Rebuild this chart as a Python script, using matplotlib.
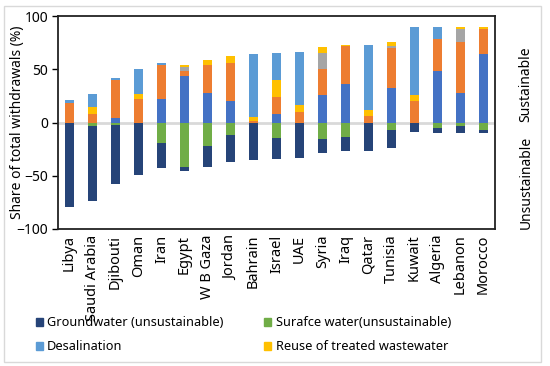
import numpy as np
import matplotlib
matplotlib.use("Agg")
import matplotlib.pyplot as plt
from matplotlib.patches import Rectangle, Patch

# --- DATA (share of total withdrawals, %) ---
countries = ["Libya", "Saudi Arabia", "Djibouti", "Oman", "Iran", "Egypt", "W B Gaza",
             "Jordan", "Bahrain", "Israel", "UAE", "Syria", "Iraq", "Qatar", "Tunisia",
             "Kuwait", "Algeria", "Lebanon", "Morocco"]

# sustainable sources (stacked upward)
gw_sust = [0, 0, 4, 0, 22, 44, 28, 20, 0, 8, 0, 25.5, 36, 0, 32, 0, 48, 28, 64]
sw_sust = [18.7, 8.4, 36, 22.4, 32, 4, 26, 36, 1, 16, 10, 25, 35.5, 6, 38, 20, 30, 48, 24]
other = [0, 0, 0, 0, 0, 4, 0, 0, 0, 0, 0, 14.5, 0, 0, 2, 0, 0, 12, 0]
reuse = [0, 6, 0, 4, 0, 2, 4.5, 6, 4.5, 16, 6, 5.5, 1.3, 5.5, 4, 6, 0, 2, 2]
desal = [2, 12, 2, 24, 2, 0, 0, 0, 59, 25, 50, 0, 0, 61, 0, 64, 12, 0, 0]

# unsustainable sources (stacked downward)
sw_unsust = [0, 3.5, 2, 0, 19, 42, 22, 12, 0, 15, 0, 15.5, 13.5, 0, 7.5, 0, 5.5, 3.5, 7.5]
gw_unsust = [79, 70, 55.5, 49, 24, 3.5, 19.5, 25, 35.5, 19.5, 33, 13.5, 13.5, 27, 16, 9, 4, 6, 2]

C_NAVY = "#264478"
C_GREEN = "#70AD47"
C_DESAL = "#5B9BD5"
C_REUSE = "#FFC000"
C_BLUE = "#4472C4"
C_ORANGE = "#ED7D31"
C_GRAY = "#A5A5A5"

plt.rcParams["font.family"] = ["Noto Sans", "DejaVu Sans"]

fig = plt.figure(figsize=(5.5, 3.66), dpi=100)
ax = fig.add_axes([58 / 550, 137 / 366, 437 / 550, 213 / 366])

x = np.arange(len(countries))
w = 0.43

# positive stack
bottom = np.zeros(len(countries))
for vals, col in [(gw_sust, C_BLUE), (sw_sust, C_ORANGE), (other, C_GRAY),
                  (reuse, C_REUSE), (desal, C_DESAL)]:
    v = np.array(vals, dtype=float)
    ax.bar(x, v, w, bottom=bottom, color=col, zorder=3)
    bottom += v

# negative stack
bottom = np.zeros(len(countries))
for vals, col in [(sw_unsust, C_GREEN), (gw_unsust, C_NAVY)]:
    v = -np.array(vals, dtype=float)
    ax.bar(x, v, w, bottom=bottom, color=col, zorder=3)
    bottom += v

ax.axhline(0, color="#D9D9D9", lw=2, zorder=2)

ax.set_xlim(-0.5, len(countries) - 0.5)
ax.set_ylim(-100, 100)
ax.set_yticks([-100, -50, 0, 50, 100])
ax.tick_params(axis="y", labelsize=10, length=4, direction="out", width=1, pad=3)
ax.set_xticks(x)
ax.set_xticklabels(countries, rotation=90, fontsize=10.5)
ax.tick_params(axis="x", length=0, pad=4)
for s in ax.spines.values():
    s.set_color("#222222")
    s.set_linewidth(1.3)

ax.set_ylabel("Share of total withdrawals (%)", fontsize=10)
ax.yaxis.set_label_coords(-33 / 437, 0.5)

fig.text(526 / 550, 1 - 84 / 366, "Sustainable", rotation=90, fontsize=10,
         ha="center", va="center")
fig.text(526 / 550, 1 - 182 / 366, "Unsustainable", rotation=90, fontsize=10,
         ha="center", va="center")

handles = [Patch(color=C_NAVY), Patch(color=C_GREEN),
           Patch(color=C_DESAL), Patch(color=C_REUSE)]
labels = ["Groundwater (unsustainable)", "Surafce water(unsustainable)",
          "Desalination", "Reuse of treated wastewater"]
# column-major ordering for ncol=2
order = [0, 2, 1, 3]
fig.legend([handles[i] for i in order], [labels[i] for i in order],
           ncol=2, loc="upper left", bbox_to_anchor=(24 / 550, 1 - 305 / 366),
           frameon=False, fontsize=9.2, handlelength=0.55, handleheight=0.55,
           handletextpad=0.35, columnspacing=3.2, labelspacing=0.85)

fig.patches.append(Rectangle((4 / 550, 4 / 366), 537 / 550, 356 / 366,
                             transform=fig.transFigure, fill=False,
                             edgecolor="#D9D9D9", lw=1))

fig.savefig("out.png", dpi=100)
